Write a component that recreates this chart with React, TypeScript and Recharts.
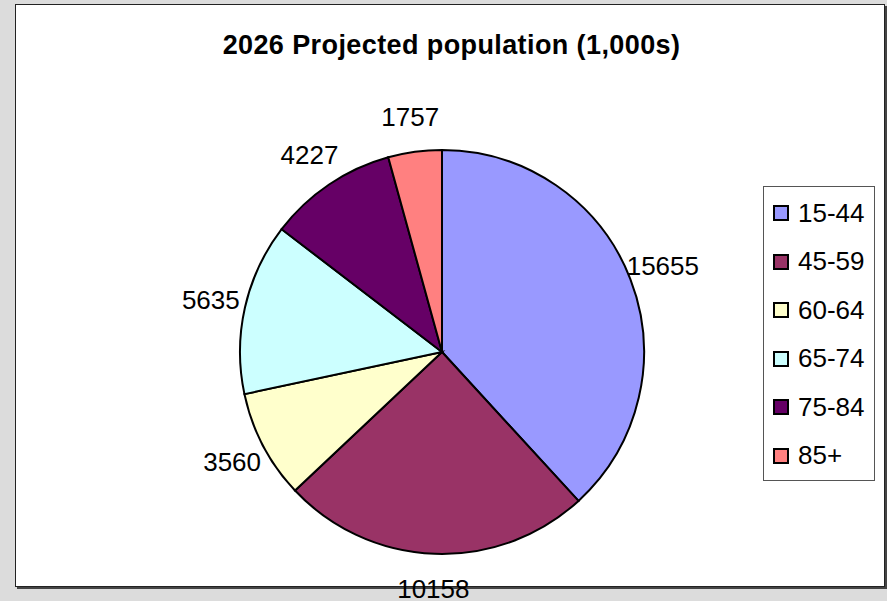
import React from 'react';
import { PieChart, Pie, Cell, Legend } from 'recharts';

const ageGroups = ['15-44', '45-59', '60-64', '65-74', '75-84', '85+'];
const population = [15655, 10158, 3560, 5635, 4227, 1757];
const sliceColors = ['#9999FF', '#993366', '#FFFFCC', '#CCFFFF', '#660066', '#FF8080'];

const data = ageGroups.map((name, i) => ({ name, value: population[i] }));

const FONT = '"Liberation Sans", Arial, sans-serif';
const RADIAN = Math.PI / 180;

const renderLabel = (props: any) => {
  const { cx, cy, midAngle, outerRadius, value } = props;
  const r = outerRadius + 35;
  const x = cx + r * Math.cos(-midAngle * RADIAN);
  const y = cy + r * Math.sin(-midAngle * RADIAN);
  return (
    <text x={x} y={y} textAnchor="middle" dominantBaseline="central" fontSize={26} fontFamily={FONT} fill="#000">
      {value}
    </text>
  );
};

const LegendBox = (props: any) => {
  const items = props.payload && props.payload.length ? props.payload : ageGroups.map((g, i) => ({ value: g, color: sliceColors[i] }));
  return (
    <div style={{ width: 110, height: 291, background: '#fff', border: '1px solid #555', boxSizing: 'content-box', paddingTop: 2 }}>
      {items.map((item: any, i: number) => (
        <div key={i} style={{ display: 'flex', alignItems: 'center', height: 48.5, paddingLeft: 9 }}>
          <span style={{ width: 12, height: 12, background: sliceColors[i], border: '2px solid #000', display: 'inline-block' }} />
          <span style={{ marginLeft: 9, fontFamily: FONT, fontSize: 26, color: '#000' }}>{item.value}</span>
        </div>
      ))}
    </div>
  );
};

export default function App() {
  return (
    <div style={{ position: 'relative', width: 887, height: 601, background: '#dcdcdc', overflow: 'hidden' }}>
      <style>{`body{margin:0}`}</style>
      <div style={{ position: 'absolute', left: 15, top: 4, width: 868, height: 581, background: '#fff', border: '1px solid #222', boxShadow: '2px 2px 0 #444' }} />
      <div style={{ position: 'absolute', left: 0, top: 32, width: 903, textAlign: 'center', fontFamily: FONT, fontWeight: 'bold', fontSize: 27, lineHeight: '27px', letterSpacing: 0.4, color: '#000' }}>
        2026 Projected population (1,000s)
      </div>
      <PieChart width={887} height={601} margin={{ top: 0, right: 0, bottom: 0, left: 0 }} style={{ position: 'absolute', left: 0, top: 0 }}>
        <Pie
          data={data}
          dataKey="value"
          nameKey="name"
          cx={442}
          cy={352}
          outerRadius={202}
          startAngle={90}
          endAngle={-270}
          stroke="#000"
          strokeWidth={2}
          label={renderLabel}
          labelLine={false}
          isAnimationActive={false}
        >
          {data.map((d, i) => (
            <Cell key={d.name} fill={sliceColors[i]} />
          ))}
        </Pie>
        <Legend
          layout="vertical"
          align="right"
          verticalAlign="middle"
          content={<LegendBox />}
          wrapperStyle={{ position: 'absolute', left: 763, top: 186, right: 'auto', width: 112 }}
        />
      </PieChart>
    </div>
  );
}
